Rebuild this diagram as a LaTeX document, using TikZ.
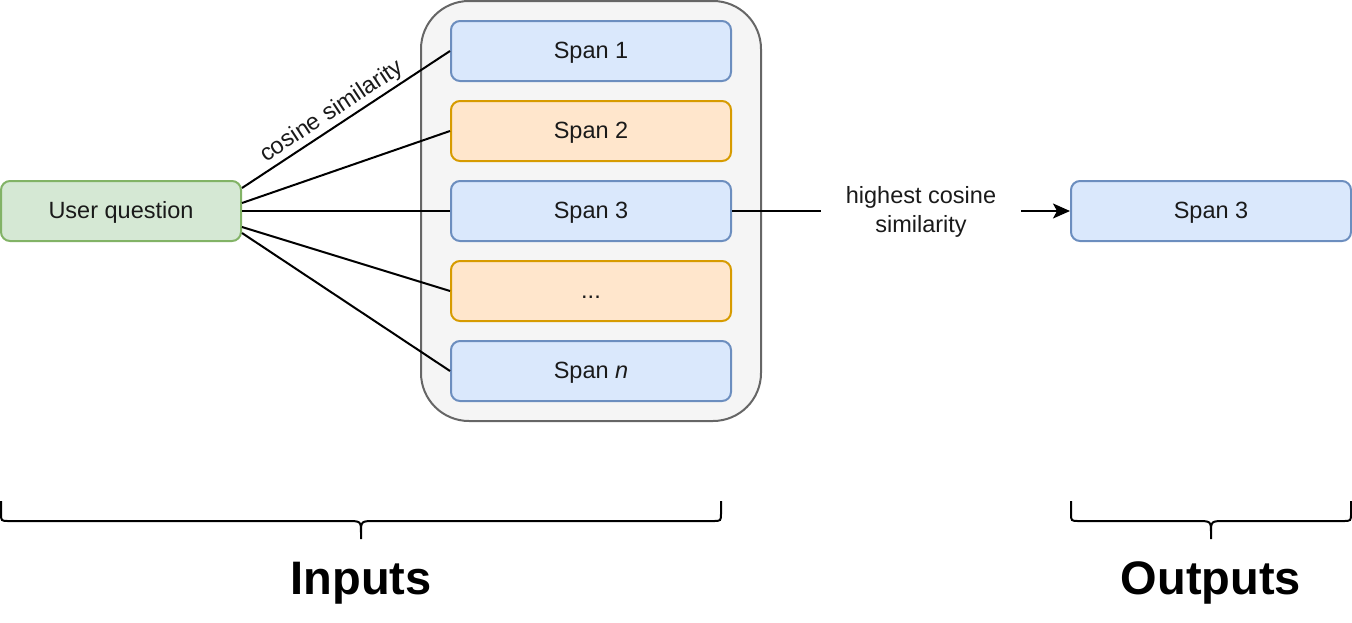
\documentclass[tikz,border=0pt]{standalone}
\usepackage{fontspec}
\setmainfont{Liberation Sans}
\usetikzlibrary{arrows.meta}
\definecolor{bluefill}{HTML}{DAE8FC}
\definecolor{bluedraw}{HTML}{6C8EBF}
\definecolor{orangefill}{HTML}{FFE6CC}
\definecolor{orangedraw}{HTML}{D79B00}
\definecolor{greenfill}{HTML}{D5E8D4}
\definecolor{greendraw}{HTML}{82B366}
\definecolor{contfill}{HTML}{F5F5F5}
\definecolor{contdraw}{HTML}{666666}
\definecolor{txt}{HTML}{1A1A1A}
\tikzset{
  box/.style={rectangle, rounded corners=9pt, minimum width=280pt, minimum height=60pt, line width=2pt, inner sep=0pt, font=\fontsize{23.5}{28}\selectfont, text=txt, text height=19pt, text depth=5pt},
  bluebox/.style={box, fill=bluefill, draw=bluedraw},
  orangebox/.style={box, fill=orangefill, draw=orangedraw},
  greenbox/.style={box, fill=greenfill, draw=greendraw, minimum width=240pt},
  conn/.style={line width=2pt, black},
  bigtxt/.style={font=\fontsize{47}{56}\selectfont\bfseries, inner sep=0pt},
  bracestyle/.style={line width=2pt, black}
}
\begin{document}
\begin{tikzpicture}[x=1pt,y=-1pt]
\useasboundingbox (0,0) rectangle (1352,622);
% container
\node[draw=contdraw, fill=contfill, line width=2pt, rounded corners=48pt, minimum width=340pt, minimum height=420pt, inner sep=0pt] (cont) at (591,211) {};
% spans
\node[bluebox] (s1) at (591,51) {Span 1};
\node[orangebox] (s2) at (591,131) {Span 2};
\node[bluebox] (s3) at (591,211) {Span 3};
\node[orangebox] (s4) at (591,291) {...};
\node[bluebox] (sn) at (591,371) {Span \textit{n}};
% user question
\node[greenbox] (uq) at (121,211) {User question};
% output
\node[bluebox] (out) at (1211,211) {Span 3};
% connectors
\draw[conn] ([yshift=23pt]uq.east) -- node[pos=0.47, above=1pt, sloped, font=\fontsize{23.5}{28}\selectfont, text=txt, inner sep=1pt] (cslab) {cosine similarity} (s1.west);
\draw[conn] ([yshift=8pt]uq.east) -- (s2.west);
\draw[conn] (uq.east) -- (s3.west);
\draw[conn] ([yshift=-16pt]uq.east) -- (s4.west);
\draw[conn] ([yshift=-22pt]uq.east) -- (sn.west);
% highest cosine similarity
\node[minimum width=200pt, inner sep=0pt, align=center, font=\fontsize{23.5}{29}\selectfont, text=txt] (hl) at (921,212) {highest cosine\\similarity};
\draw[conn] (s3.east) -- (hl.west |- s3.east);
\draw[conn, -{Stealth[length=17pt,width=15pt,inset=4pt]}] (hl.east |- out.west) -- (out.west);
% braces
\draw[bracestyle] (1,501) -- (1,513) .. controls (1,521) .. (9,521) -- (346,521) .. controls (361,521) .. (361,533) -- (361,539)
  (361,533) .. controls (361,521) .. (376,521) -- (713,521) .. controls (721,521) .. (721,513) -- (721,501);
\draw[bracestyle] (1071,501) -- (1071,513) .. controls (1071,521) .. (1079,521) -- (1196,521) .. controls (1211,521) .. (1211,533) -- (1211,539)
  (1211,533) .. controls (1211,521) .. (1226,521) -- (1343,521) .. controls (1351,521) .. (1351,513) -- (1351,501);
\node[bigtxt] (inputs) at (361,583) {Inputs};
\node[bigtxt] (outputs) at (1211,583) {Outputs};
\end{tikzpicture}
\end{document}
